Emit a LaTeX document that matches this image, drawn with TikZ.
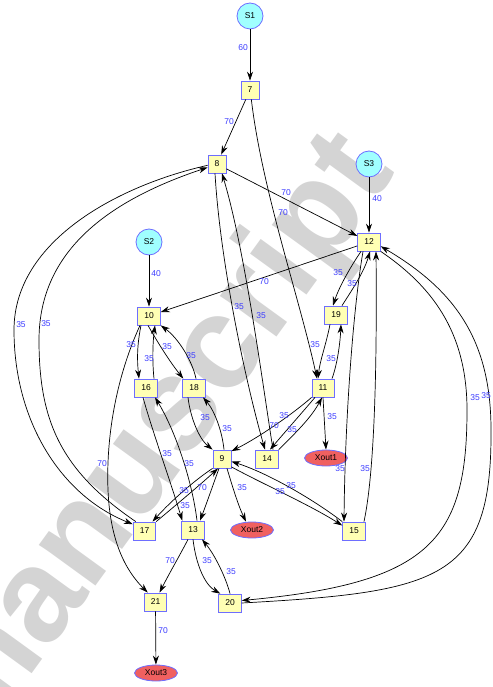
\documentclass[tikz,border=0pt]{standalone}
\usepackage{fontspec}
\setmainfont{Liberation Sans}
\usetikzlibrary{arrows.meta,shapes.geometric}
\definecolor{nodeblue}{RGB}{110,110,255}
\definecolor{boxyellow}{RGB}{255,255,180}
\definecolor{srccyan}{RGB}{160,255,255}
\definecolor{sinkred}{RGB}{240,96,96}
\definecolor{labblue}{RGB}{60,60,255}
\definecolor{wmgray}{RGB}{212,212,212}
\newcommand{\fsz}{\fontsize{8.5}{10}\selectfont}
\begin{document}
\begin{tikzpicture}[x=1pt,y=-1pt,
  box/.style={draw=nodeblue, fill=boxyellow, line width=0.8pt, minimum height=18pt, minimum width=18pt, inner xsep=6.6pt, inner ysep=0pt, font=\fsz},
  src/.style={circle, draw=nodeblue, fill=srccyan, line width=0.8pt, minimum size=26pt, inner sep=0pt, font=\fsz},
  sink/.style={ellipse, draw=nodeblue, fill=sinkred, line width=0.8pt, minimum width=43pt, minimum height=16pt, inner sep=0pt, font=\fsz},
  lab/.style={text=labblue, font=\fsz, inner sep=0pt},
  arr/.style={draw=black, line width=0.7pt, -{Stealth[length=9pt,width=6pt]}},
  wm/.style={text=wmgray, font=\fontsize{132}{132}\selectfont\bfseries, inner sep=0pt}
]
\useasboundingbox (0,0) rectangle (492,687);
\node[wm, rotate=54] (wmark) at (160,440) {manuscript};

% nodes
\node[src] (S1) at (250,16) {S1};
\node[box] (n7) at (250,90) {7};
\node[box] (n8) at (217,164) {8};
\node[src] (S3) at (369,164) {S3};
\node[box] (n12) at (369,242) {12};
\node[src] (S2) at (149,242) {S2};
\node[box] (n10) at (149,316) {10};
\node[box] (n19) at (336,315) {19};
\node[box] (n16) at (146,388) {16};
\node[box] (n18) at (194,388) {18};
\node[box] (n11) at (323,388) {11};
\node[box] (n9) at (222,459) {9};
\node[box] (n14) at (267,459) {14};
\node[sink] (X1) at (326,458) {Xout1};
\node[box] (n17) at (144.5,531) {17};
\node[box] (n13) at (193,530) {13};
\node[sink] (X2) at (252,530) {Xout2};
\node[box] (n15) at (354,531) {15};
\node[box] (n21) at (155.5,602) {21};
\node[box] (n20) at (230,603) {20};
\node[sink] (X3) at (156,673) {Xout3};

% edges
\draw[arr] (S1) -- (n7);
\draw[arr] (n7) -- (n8);
\draw[arr] (n7.-82) .. controls (262,190) and (300,300) .. ([xshift=-6pt]n11.north);
\draw[arr] (n8) -- (n12);
\draw[arr] (S3) -- (n12);
\draw[arr] (n12) -- (n10);
\draw[arr] (S2) -- (n10);
\draw[arr] ([xshift=-8pt]n12.south) .. controls (351,266) and (339,287) .. ([xshift=-3pt]n19.north);
\draw[arr] ([xshift=6pt]n19.north) .. controls (352,290) and (364,272) .. ([xshift=1pt]n12.south);
\draw[arr] ([xshift=-6pt]n19.south) .. controls (326,345) and (320,360) .. ([xshift=-5pt]n11.north);
\draw[arr] ([xshift=9pt]n11.north) .. controls (337,365) and (340,345) .. ([xshift=5pt]n19.south);
\draw[arr] ([xshift=-2pt]n8.south) .. controls (220,260) and (245,380) .. ([xshift=-2pt]n14.north);
\draw[arr] ([xshift=6pt]n14.north) .. controls (262,380) and (245,250) .. ([xshift=5pt]n8.south);
\draw[arr] (n8.-172) .. controls (120,185) and (14,240) .. (14,330) .. controls (14,420) and (60,495) .. (n17.150);
\draw[arr] ([xshift=3pt]n17.north west) .. controls (60,470) and (39,420) .. (39,340) .. controls (39,250) and (110,200) .. (n8.-160);
\draw[arr] ([xshift=-8pt]n10.south) .. controls (137,345) and (137,360) .. ([xshift=-7pt]n16.north);
\draw[arr] ([xshift=8pt]n16.north) .. controls (152,360) and (153,340) .. ([xshift=6pt]n10.south);
\draw[arr] ([xshift=-9pt]n10.south) .. controls (115,380) and (106,440) .. (108,490) .. controls (110,540) and (125,570) .. ([xshift=4pt]n21.north west);
\draw[arr] ([xshift=-1pt]n10.south) .. controls (158,343) and (170,362) .. ([xshift=1pt]n18.north west);
\draw[arr] ([xshift=2pt]n18.north) .. controls (192,360) and (178,338) .. (n10.south east);
\draw[arr] ([xshift=-6pt]n18.south) .. controls (190,415) and (198,438) .. (n9.north west);
\draw[arr] ([xshift=2pt]n9.north) .. controls (222,430) and (214,410) .. ([xshift=9pt]n18.south);
\draw[arr] ([xshift=-3pt]n16.south) .. controls (152,430) and (170,480) .. ([xshift=1pt]n13.north west);
\draw[arr] ([xshift=4pt]n13.north) .. controls (192,480) and (175,430) .. ([xshift=9pt]n16.south);
\draw[arr] (n11.south west) .. controls (295,412) and (260,437) .. (n9.40);
\draw[arr] ([xshift=-8pt]n11.south) .. controls (300,415) and (285,432) .. ([xshift=3pt]n14.north);
\draw[arr] (n14.north east) .. controls (290,438) and (310,420) .. ([xshift=-1pt]n11.south);
\draw[arr] (n11.south) -- (X1.north);
\draw[arr] (n9.south west) .. controls (195,480) and (172,500) .. ([xshift=8pt]n17.north);
\draw[arr] (n17.north east) .. controls (170,510) and (200,485) .. ([xshift=-4pt]n9.south);
\draw[arr] ([xshift=-3pt]n9.south) .. controls (213,485) and (206,505) .. ([xshift=7pt]n13.north);
\draw[arr] ([xshift=5pt]n9.south) .. controls (232,485) and (238,505) .. ([xshift=-6pt]X2.north);
\draw[arr] (n15.north west) .. controls (310,497) and (265,472) .. (n9.-15);
\draw[arr] (n9.-40) .. controls (265,485) and (310,505) .. (n15.155);
\draw[arr] ([xshift=-6pt]n12.south) .. controls (353,310) and (345,420) .. ([xshift=-10pt]n15.north);
\draw[arr] ([xshift=10pt]n15.north) .. controls (375,470) and (377,360) .. ([xshift=7pt]n12.south);
\draw[arr] (n12.south east) .. controls (430,285) and (467,330) .. (467,410) .. controls (467,540) and (430,583) .. (n20.12);
\draw[arr] (n20.0) .. controls (440,592) and (492,580) .. (491,430) .. controls (491,340) and (455,290) .. (n12.-20);
\draw[arr] ([xshift=-5pt]n13.south) .. controls (180,555) and (170,572) .. ([xshift=4pt]n21.north);
\draw[arr] (n13.south) .. controls (196,565) and (205,585) .. ([xshift=2pt]n20.north west);
\draw[arr] (n20.north) .. controls (226,578) and (215,555) .. ([xshift=9pt]n13.south);
\draw[arr] (n21) -- (X3);

% labels
\node[lab] (l1) at (243,48) {60};
\node[lab] (l2) at (229,122) {70};
\node[lab] (l3) at (286,193) {70};
\node[lab] (l4) at (283,213) {70};
\node[lab] (l5) at (377,199) {40};
\node[lab] (l6) at (264,282) {70};
\node[lab] (l7) at (156,274) {40};
\node[lab] (l8) at (338,273) {35};
\node[lab] (l9) at (352,284) {35};
\node[lab] (l10) at (239,307) {35};
\node[lab] (l11) at (261,316) {35};
\node[lab] (l12) at (21,325) {35};
\node[lab] (l13) at (46,324) {35};
\node[lab] (l14) at (131,345) {35};
\node[lab] (l15) at (149,359) {35};
\node[lab] (l16) at (167,347) {35};
\node[lab] (l17) at (191,356) {35};
\node[lab] (l18) at (315,345) {35};
\node[lab] (l19) at (331,359) {35};
\node[lab] (l20) at (205,418) {35};
\node[lab] (l21) at (227,429) {35};
\node[lab] (l22) at (284,416) {35};
\node[lab] (l23) at (274,426) {70};
\node[lab] (l24) at (292,430) {35};
\node[lab] (l25) at (332,417) {35};
\node[lab] (l26) at (102,464) {70};
\node[lab] (l27) at (167,454) {35};
\node[lab] (l28) at (189,464) {35};
\node[lab] (l29) at (184,491) {35};
\node[lab] (l30) at (202,488) {70};
\node[lab] (l31) at (185,506) {35};
\node[lab] (l32) at (242,488) {35};
\node[lab] (l33) at (280,492) {35};
\node[lab] (l34) at (291,486) {35};
\node[lab] (l35) at (340,469) {35};
\node[lab] (l36) at (365,469) {35};
\node[lab] (l37) at (475,398) {35};
\node[lab] (l38) at (486,396) {35};
\node[lab] (l39) at (170,561) {70};
\node[lab] (l40) at (207,561) {35};
\node[lab] (l41) at (231,572) {35};
\node[lab] (l42) at (163,631) {70};
\end{tikzpicture}
\end{document}
